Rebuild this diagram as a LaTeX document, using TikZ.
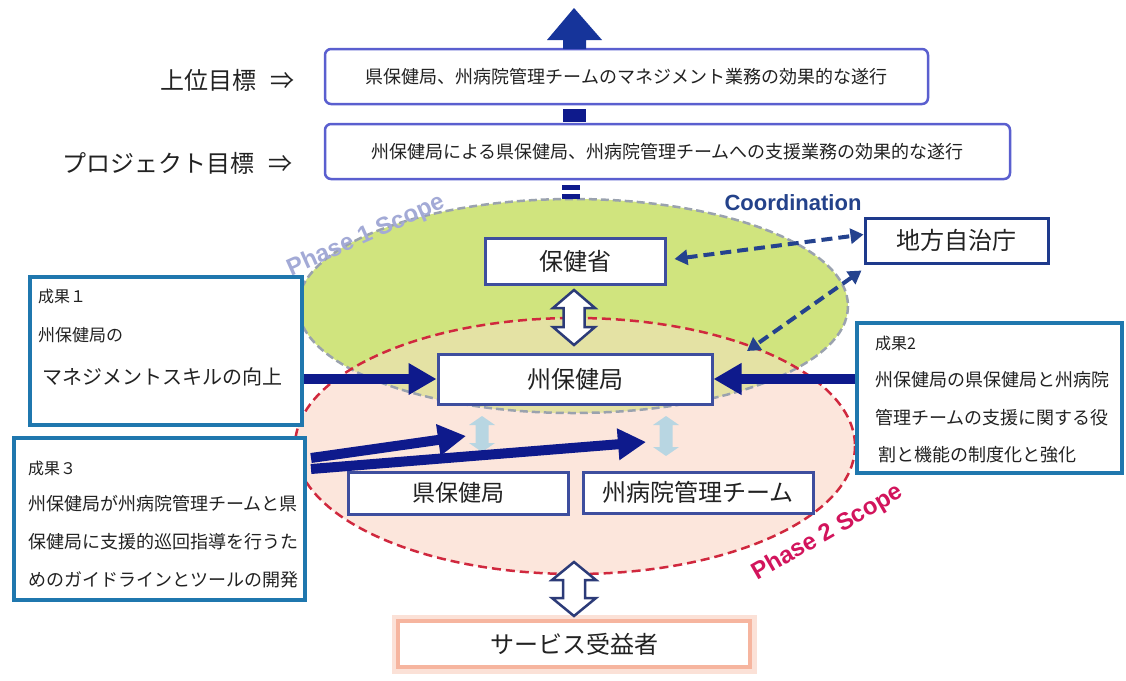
\documentclass[tikz,border=0pt]{standalone}
\usepackage{fontspec}
\newfontfamily\jp{Noto Sans CJK JP}
\newfontfamily\lsans{Liberation Sans}
\usetikzlibrary{arrows.meta,calc}
\newcommand\myfs[1]{\fontsize{#1}{#1}\selectfont}
\definecolor{navy}{HTML}{0E1A8C}
\definecolor{topc}{HTML}{16349A}
\definecolor{goalc}{HTML}{5A5FCF}
\definecolor{orgc}{HTML}{3E4E9E}
\definecolor{lgc}{HTML}{1E3A8C}
\definecolor{resc}{HTML}{1F77AE}
\definecolor{dashc}{HTML}{24428E}
\definecolor{coordc}{HTML}{24428A}
\definecolor{pinkf}{HTML}{FCE6DC}
\definecolor{greenf}{HTML}{D0E47E}
\definecolor{overlapf}{HTML}{E4E2A4}
\definecolor{greyd}{HTML}{9AA2AE}
\definecolor{redd}{HTML}{D0283E}
\definecolor{ph1}{HTML}{A3AAD6}
\definecolor{ph2}{HTML}{D2145C}
\definecolor{hollowc}{HTML}{2C3B78}
\definecolor{lightb}{HTML}{A8D2E4}
\definecolor{glowc}{HTML}{F4A88E}
\definecolor{txt}{HTML}{222222}
% #1 centre x, #2 top y, #3 bottom y, #4 head half width, #5 head length, #6 style
\newcommand\dblarrow[6]{%
  \draw[#6] (#1,#2) -- (#1+#4,#2+#5) -- (#1+#4/2,#2+#5) -- (#1+#4/2,#3-#5)
    -- (#1+#4,#3-#5) -- (#1,#3) -- (#1-#4,#3-#5) -- (#1-#4/2,#3-#5)
    -- (#1-#4/2,#2+#5) -- (#1-#4,#2+#5) -- cycle;}
\begin{document}
\begin{tikzpicture}[x=1pt,y=-1pt,
  goalbox/.style={draw=goalc, line width=2.5pt, rounded corners=6pt, fill=white, inner sep=0pt, font=\jp\myfs{18}, text=txt},
  orgbox/.style={draw=orgc, line width=3pt, fill=white, inner sep=0pt, font=\jp\myfs{24}, text=txt},
  resbox/.style={draw=resc, line width=3.5pt, fill=white, inner sep=0pt},
  rtext/.style={anchor=west, inner sep=0pt, text=txt},
  bigarrow/.style={draw=navy, line width=10pt, -{Triangle[length=28pt,width=30pt]}},
  dasharrow/.style={draw=dashc, line width=4pt, dash pattern=on 11pt off 6pt,
     {Triangle[length=13pt,width=15pt]}-{Triangle[length=13pt,width=15pt]}},
  hollow/.style={draw=hollowc, line width=2.5pt, fill=white, line join=miter},
  faint/.style={fill=lightb, draw=none, opacity=0.8}
]
\useasboundingbox (0,0) rectangle (1126,680);
\fill[white] (0,0) rectangle (1126,680);

% scope ellipses
\fill[pinkf] (575,446) ellipse [x radius=280, y radius=128];
\fill[greenf] (573,306) ellipse [x radius=275, y radius=107];
\begin{scope}
  \clip (573,306) ellipse [x radius=275, y radius=107];
  \fill[overlapf] (575,446) ellipse [x radius=280, y radius=128];
\end{scope}
\draw[greyd, line width=2.5pt, dash pattern=on 8pt off 4pt] (573,306) ellipse [x radius=275, y radius=107];
\draw[redd, line width=2.5pt, dash pattern=on 9pt off 5pt] (575,446) ellipse [x radius=280, y radius=128];

\node[font=\lsans\bfseries\myfs{24}, text=ph1, rotate=24] (p1) at (366,236) {Phase 1 Scope};
\node[font=\lsans\bfseries\myfs{24}, text=ph2, rotate=30] (p2) at (828,533) {Phase 2 Scope};

% goal boxes
\node[goalbox, minimum width=603pt, minimum height=55pt] (g1) at (626.5,76.5) {県保健局、州病院管理チームのマネジメント業務の効果的な遂行};
\node[goalbox, minimum width=685pt, minimum height=55pt] (g2) at (667.5,151.5) {州保健局による県保健局、州病院管理チームへの支援業務の効果的な遂行};

\node[anchor=west, inner sep=0pt, font=\jp\myfs{24}, text=txt] (l1) at (160,80) {上位目標\hspace{14pt}⇒};
\node[anchor=west, inner sep=0pt, font=\jp\myfs{24}, text=txt] (l2) at (62,163) {プロジェクト目標\hspace{14pt}⇒};

% top arrow and connectors between goal boxes
\fill[topc] (563,49) -- (563,40) -- (547,40) -- (574,8) -- (602,40) -- (586,40) -- (586,49) -- cycle;
\fill[navy] (563,109) rectangle (586,122);
\fill[navy] (562,185) rectangle (580,190);
\fill[navy] (562,194) rectangle (580,199);

\node[font=\lsans\bfseries\myfs{22}, text=coordc] (co) at (793,203) {Coordination};

% organisation boxes
\node[orgbox, minimum width=180pt, minimum height=46pt] (hs) at (575,261) {保健省};
\node[orgbox, draw=lgc, minimum width=183pt, minimum height=45pt] (lg) at (956.5,240.5) {地方自治庁};
\node[orgbox, minimum width=274pt, minimum height=50pt] (sh) at (575,379) {州保健局};
\node[orgbox, font=\jp\myfs{23}, minimum width=220pt, minimum height=42pt] (kh) at (458,493) {県保健局};
\node[orgbox, minimum width=230pt, minimum height=41pt] (hm) at (698,492.5) {州病院管理チーム};

% service box
\node[draw=glowc!85, line width=4pt, fill=white, inner sep=0pt, font=\jp\myfs{24}, text=txt,
      preaction={draw=glowc!35, line width=13pt},
      minimum width=352pt, minimum height=46pt] (sv) at (574,644) {サービス受益者};

% hollow double arrows
\dblarrow{574}{290}{345}{21}{18}{hollow}
\dblarrow{574}{562}{616}{22}{18}{hollow}
% faint arrows
\dblarrow{482}{416}{452}{13}{9}{faint}
\dblarrow{666}{416}{456}{13}{9}{faint}

% coordination dashed arrows
\coordinate (shne) at (747,351);
\draw[dasharrow] ([xshift=8pt,yshift=2pt]hs.east) -- ([yshift=6pt]lg.west);
\draw[dasharrow] ([xshift=-2pt,yshift=-6pt]lg.south west) -- (shne);

% result boxes
\node[resbox, minimum width=272pt, minimum height=148pt] (r1) at (166,351) {};
\node[rtext, font=\jp\myfs{16}] (r1a) at (38,296) {成果１};
\node[rtext, font=\jp\myfs{17}] (r1b) at (38,335) {州保健局の};
\node[rtext, font=\jp\myfs{20}] (r1c) at (42,377) {マネジメントスキルの向上};

\node[resbox, minimum width=265pt, minimum height=150pt] (r2) at (989.5,398) {};
\node[rtext, font=\jp\myfs{16}] (r2a) at (875,343) {成果2};
\node[rtext, font=\jp\myfs{18}] (r2b) at (875,380) {州保健局の県保健局と州病院};
\node[rtext, font=\jp\myfs{18}] (r2c) at (875,418) {管理チームの支援に関する役};
\node[rtext, font=\jp\myfs{18}] (r2d) at (878,455) {割と機能の制度化と強化};

\node[resbox, minimum width=291pt, minimum height=162pt] (r3) at (159.5,519) {};
\node[rtext, font=\jp\myfs{16}] (r3a) at (28,468) {成果３};
\node[rtext, font=\jp\myfs{18}] (r3b) at (28,504) {州保健局が州病院管理チームと県};
\node[rtext, font=\jp\myfs{18}] (r3c) at (28,542) {保健局に支援的巡回指導を行うた};
\node[rtext, font=\jp\myfs{18}] (r3d) at (28,580) {めのガイドラインとツールの開発};

% result arrows
\draw[bigarrow] (r1.east |- sh.west) -- (sh.west);
\draw[bigarrow] (r2.west |- sh.east) -- (sh.east);
\coordinate (r3s1) at (311,458);
\coordinate (r3s2) at (311,469);
\coordinate (kt) at (466,436);
\coordinate (ht) at (646,442);
\draw[bigarrow] (r3s1) -- (kt);
\draw[bigarrow] (r3s2) -- (ht);
\end{tikzpicture}
\end{document}
